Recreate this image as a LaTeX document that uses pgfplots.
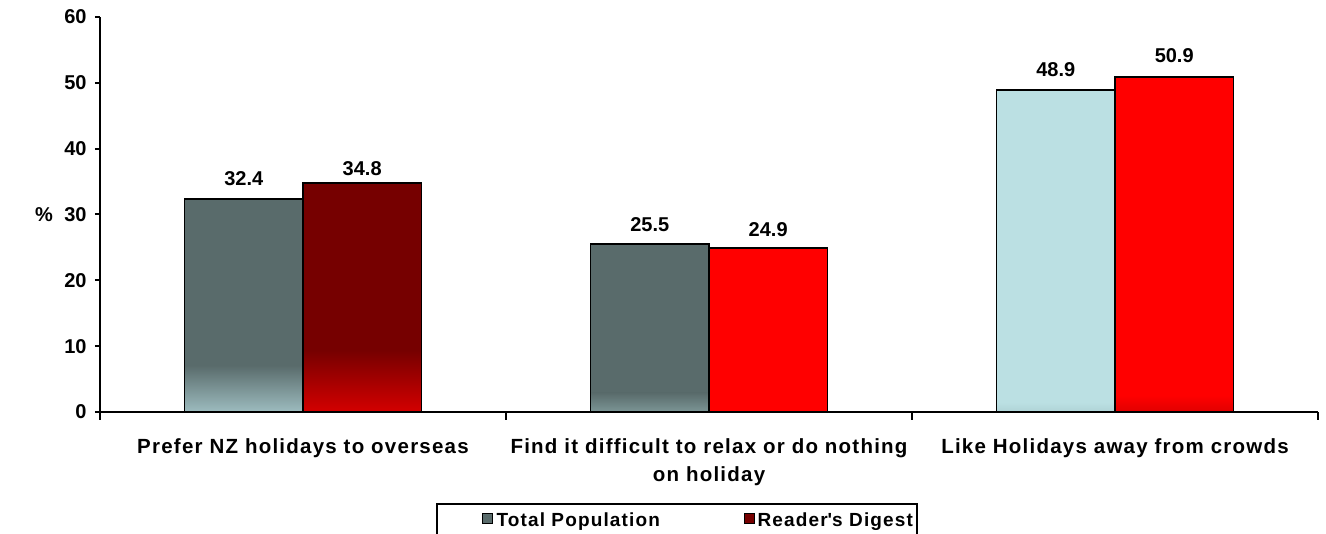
\documentclass[border=0pt]{standalone}
\usepackage{fontspec}
\setmainfont{Liberation Sans}
\newfontfamily\catfont{Liberation Sans}[LetterSpace=6]
\newfontfamily\lgfont{Liberation Sans}[LetterSpace=6]
\usepackage{pgfplots}
\pgfplotsset{compat=1.18}

\definecolor{tpgrey}{HTML}{596B6B}
\definecolor{tpgreyL}{HTML}{9DBCBF}
\definecolor{tpgreyM}{HTML}{7C9696}
\definecolor{tpblue}{HTML}{BBE0E3}
\definecolor{tpblueL}{HTML}{AFD3D6}
\definecolor{rddark}{HTML}{760000}
\definecolor{rddarkL}{HTML}{D40000}
\definecolor{rdred}{HTML}{FF0000}
\definecolor{rdredL}{HTML}{E00000}

% bars: one category = 1 unit, bar width in axis units (203pt per unit)
\pgfplotsset{
  tp/.style={ybar, bar width=0.292, bar shift=-0.146, forget plot},
  rd/.style={ybar, bar width=0.292, bar shift=0.146, forget plot},
  valtp/.style={nodes near coords, nodes near coords style={font=\bfseries\fontsize{10}{12}\selectfont, inner sep=0pt, anchor=south, xshift=-29.6pt, yshift=#1}},
  valrd/.style={nodes near coords, nodes near coords style={font=\bfseries\fontsize{10}{12}\selectfont, inner sep=0pt, anchor=south, xshift=29.6pt, yshift=#1}},
}

\begin{document}
\begin{tikzpicture}
\path[use as bounding box] (-50pt,-61pt) rectangle (613pt,206pt);
\begin{axis}[
  at={(0,0)}, anchor=south west,
  scale only axis, width=609pt, height=197.5pt,
  xmin=-0.5, xmax=2.5, ymin=0, ymax=60,
  clip=false,
  axis lines*=left,
  axis line style={line width=1pt, black},
  tick align=outside,
  tick style={line width=1pt, black},
  major tick length=2.5pt,
  minor tick length=4pt,
  ytick={0,10,...,60},
  xtick={0,1,2},
  xticklabels={Prefer NZ holidays to overseas, {Find it difficult to relax or do nothing\\on holiday}, Like Holidays away from crowds},
  major x tick style={draw=none},
  minor xtick={-0.5,0.5,1.5,2.5},
  /pgf/number format/assume math mode=true,
  yticklabel style={font=\bfseries\fontsize{10}{12}\selectfont, inner sep=0pt, xshift=-4pt},
  xticklabel style={font=\catfont\bfseries\fontsize{10.25}{14.2}\selectfont, align=center, anchor=north, inner sep=0pt, yshift=-10.5pt},
  ylabel={\%},
  every axis y label/.style={at={(axis description cs:0,0.5)}, anchor=center, xshift=-28pt, font=\bfseries\fontsize{10}{12}\selectfont},
  legend columns=2,
  legend style={at={(0.2759,0)}, anchor=north west, yshift=-45.5pt,
    draw=black, line width=1pt, inner xsep=0pt, inner ysep=2.5pt,
    font=\lgfont\bfseries\fontsize{9.5}{11}\selectfont,
    nodes={inner sep=0pt, text height=8.5pt, text depth=8pt},
    /tikz/every even column/.append style={column sep=44.5pt}},
]
% Total Population
\addplot[tp, fill=tpgrey, draw=none, valtp=6.25pt] coordinates {(0,32.4)};
\addplot[tp, fill=tpgrey, draw=none, valtp=6pt] coordinates {(1,25.5)};
\addplot[tp, fill=tpblue, draw=none, valtp=6.5pt] coordinates {(2,48.9)};
% Reader's Digest
\addplot[rd, fill=rddark, draw=none, valrd=3.5pt] coordinates {(0,34.8)};
\addplot[rd, fill=rdred, draw=none, valrd=5.5pt] coordinates {(1,24.9)};
\addplot[rd, fill=rdred, draw=none, valrd=7pt] coordinates {(2,50.9)};
% shaded feet of the bars
\addplot[tp, draw=none, top color=tpgrey, bottom color=tpgreyL] coordinates {(0,7.1)};
\addplot[tp, draw=none, top color=tpgrey, bottom color=tpgreyM] coordinates {(1,2.9)};
\addplot[tp, draw=none, top color=tpblue, bottom color=tpblueL] coordinates {(2,1.5)};
\addplot[rd, draw=none, top color=rddark, bottom color=rddarkL] coordinates {(0,9.4)};
\addplot[rd, draw=none, top color=rdred, bottom color=rdredL] coordinates {(2,2.5)};
% outlines
\addplot[tp, draw=black, fill=none, line width=0.9pt] coordinates {(0,32.4) (1,25.5) (2,48.9)};
\addplot[rd, draw=black, fill=none, line width=0.9pt] coordinates {(0,34.8) (1,24.9) (2,50.9)};
% legend (box runs off the bottom edge as in the original)
\addlegendimage{legend image code/.code={\path (-22pt,0pt); \draw[line width=0.5pt, fill=tpgrey] (0pt,1.2pt) rectangle (5pt,6.2pt);}}
\addlegendentry{\makebox[81pt][l]{\hspace{2pt}Total Population}}
\addlegendimage{legend image code/.code={\draw[line width=0.5pt, fill=rddark] (0pt,1.2pt) rectangle (5pt,6.2pt);}}
\addlegendentry{\makebox[81pt][l]{\hspace{1.5pt}Reader\textquotesingle s Digest}}
\end{axis}
\end{tikzpicture}
\end{document}
